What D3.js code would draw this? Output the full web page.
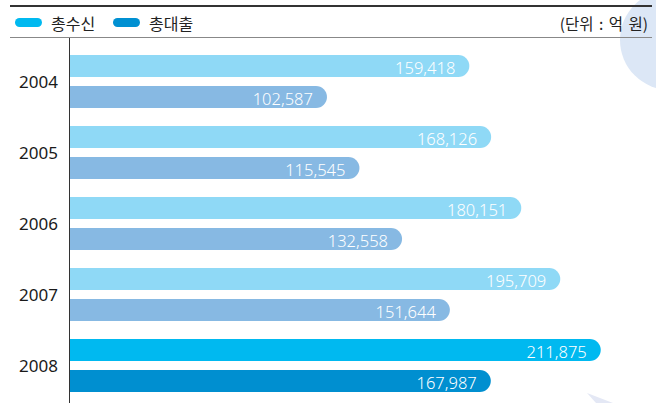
<!DOCTYPE html>
<html>
<head>
<meta charset="utf-8">
<script src="https://cdn.jsdelivr.net/npm/d3@7"></script>
<style>
  html, body { margin: 0; padding: 0; background: #fff; }
  #chartContainer { width: 656px; height: 403px; }
</style>
</head>
<body>
<div id="chartContainer"></div>
<script>
// Chart data
const years = ["2004", "2005", "2006", "2007", "2008"];
const seriesNames = ["총수신", "총대출"];
const deposits = [159418, 168126, 180151, 195709, 211875];
const loans = [102587, 115545, 132558, 151644, 167987];
const unitLabel = "(단위 : 억 원)";

const width = 656;
const height = 403;
const marginLeft = 70;
const fontKr = "'Noto Sans CJK KR', 'Noto Sans', sans-serif";

const svg = d3.create("svg")
  .attr("width", width)
  .attr("height", height)
  .attr("viewBox", [0, 0, width, height]);

// background decoration
svg.append("circle")
  .attr("cx", 670).attr("cy", 40).attr("r", 50)
  .attr("fill", "#dce7f6");
svg.append("path")
  .attr("d", "M587,393 L613,403 L596,403 Z")
  .attr("fill", "#e4e8f5");

// header lines
svg.append("line")
  .attr("x1", 10).attr("x2", 652).attr("y1", 6).attr("y2", 6)
  .attr("stroke", "#333").attr("stroke-width", 2);
svg.append("line")
  .attr("x1", 10).attr("x2", 652).attr("y1", 37.5).attr("y2", 37.5)
  .attr("stroke", "#888").attr("stroke-width", 1);

// legend
const legendColors = ["#00b9f0", "#0090d2"];
const legendX = [15, 113];
seriesNames.forEach((name, i) => {
  const g = svg.append("g").attr("transform", `translate(${legendX[i]},18)`);
  g.append("rect")
    .attr("width", 27).attr("height", 9).attr("rx", 4.5)
    .attr("fill", legendColors[i]);
  g.append("text")
    .attr("x", 36).attr("y", 5)
    .attr("dominant-baseline", "central")
    .attr("font-family", fontKr)
    .attr("font-size", 16)
    .attr("fill", "#222")
    .text(name);
});
svg.append("text")
  .attr("x", 648).attr("y", 23)
  .attr("dominant-baseline", "central")
  .attr("text-anchor", "end")
  .attr("font-family", fontKr)
  .attr("font-size", 15.5)
  .attr("word-spacing", 2)
  .attr("fill", "#222")
  .text(unitLabel);

// scales
const x = d3.scaleLinear([0, 200000], [marginLeft, marginLeft + 501]);
const y = d3.scaleBand(years, [46, 401])
  .paddingInner(18 / 71)
  .paddingOuter(9 / 71);
const ySub = d3.scaleBand([0, 1], [0, y.bandwidth()])
  .paddingInner(9 / 31);

const rows = years.map((yr, i) => ({year: yr, values: [deposits[i], loans[i]], last: i === years.length - 1}));

function barPath(x0, x1, y0, h) {
  const r = h / 2;
  return `M${x0},${y0} H${x1 - r} A${r},${r} 0 0 1 ${x1 - r},${y0 + h} H${x0} Z`;
}

const fmt = d3.format(",");
const normalColors = ["#8fd9f6", "#87b9e3"];
const highlightColors = ["#00b9f0", "#008fd0"];

const groups = svg.append("g").selectAll("g")
  .data(rows)
  .join("g")
  .attr("transform", d => `translate(0,${y(d.year)})`);

groups.selectAll("path")
  .data(d => d.values.map((v, j) => ({v, j, last: d.last})))
  .join("path")
  .attr("d", d => barPath(x(0), x(d.v), ySub(d.j), ySub.bandwidth()))
  .attr("fill", d => d.last ? highlightColors[d.j] : normalColors[d.j]);

groups.selectAll("text.value")
  .data(d => d.values.map((v, j) => ({v, j})))
  .join("text")
  .attr("class", "value")
  .attr("x", d => x(d.v) - 14)
  .attr("y", d => ySub(d.j) + ySub.bandwidth() / 2 + 1)
  .attr("dominant-baseline", "central")
  .attr("text-anchor", "end")
  .attr("font-family", "'Noto Sans', sans-serif")
  .attr("font-weight", 300)
  .attr("font-size", 16.5)
  .attr("fill", "#fff")
  .text(d => fmt(d.v));

// year labels
groups.append("text")
  .attr("x", 58)
  .attr("y", y.bandwidth() / 2)
  .attr("dominant-baseline", "central")
  .attr("text-anchor", "end")
  .attr("font-family", "'Noto Sans', sans-serif")
  .attr("font-size", 17)
  .attr("fill", "#1a1a1a")
  .text(d => d.year);

// vertical axis line
svg.append("line")
  .attr("x1", marginLeft - 0.5).attr("x2", marginLeft - 0.5)
  .attr("y1", 38).attr("y2", height)
  .attr("stroke", "#333").attr("stroke-width", 1);

document.getElementById("chartContainer").append(svg.node());
</script>
</body>
</html>
